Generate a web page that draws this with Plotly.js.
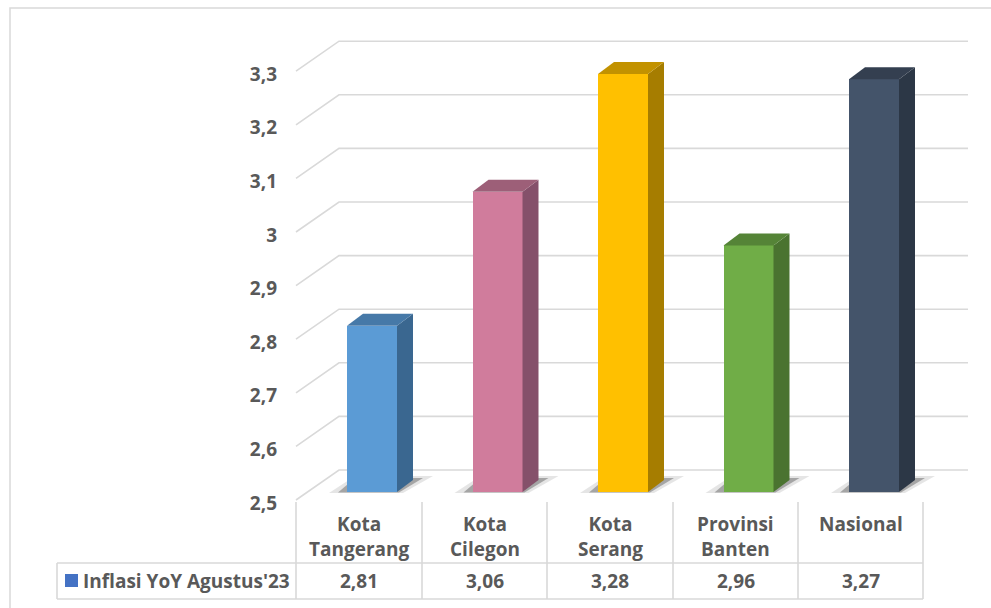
<!DOCTYPE html>
<html><head><meta charset="utf-8">
<script src="https://cdn.plot.ly/plotly-3.0.1.min.js"></script>
<style>html,body{margin:0;padding:0;background:#fff}#chart{width:991px;height:608px}</style>
</head><body><div id="chart"></div><script>
// ---- data ----
const categories = ['Kota Tangerang', 'Kota Cilegon', 'Kota Serang', 'Provinsi Banten', 'Nasional'];
const values = [2.81, 3.06, 3.28, 2.96, 3.27];
const yTicks = [2.5, 2.6, 2.7, 2.8, 2.9, 3.0, 3.1, 3.2, 3.3];
const seriesName = "Inflasi YoY Agustus'23";

// ---- style ----
const frontColors = ['#5B9BD5', '#D07C9C', '#FFC000', '#70AD47', '#44546A'];
const sideColors  = ['#3A6790', '#85506A', '#A67D00', '#4A7330', '#2C3746'];
const topColors   = ['#4679A8', '#9D5F78', '#C29200', '#558437', '#343F50'];
const legendColor = '#4472C4';
const textColor = '#595959';
const gridColor = '#D9D9D9';
const FONT = '"Open Sans", Lato, sans-serif';
const FS = 19;

// geometry (pixels of the 991x608 canvas)
const W = 991, H = 608;
const X0PX = 372, STEP = 125.5;   // bar 0 front centre, category step
const BASE = yTicks[0];
const Y0PX = 492, PPU = 536;      // pixel of BASE on bar plane, pixels per unit
const xu = px => (px - X0PX) / STEP;
const yu = py => BASE + (Y0PX - py) / PPU;
const dxu = px => px / STEP;
const dyu = px => px / PPU;

const barW = dxu(50);
const depthX = dxu(16), depthY = dyu(12);
const frontOff = -dyu(8), backOff = dyu(22);
const wallLeft = xu(339), wallRight = xu(968), floorLeft = xu(296);

const xs = categories.map((c, i) => i);
const fmt = v => String(v).replace('.', ',');

const traces = [];
// front faces
traces.push({
  type: 'bar', x: xs, y: values.map(v => v - BASE), base: BASE, width: barW,
  marker: {color: frontColors, line: {width: 0}}, hoverinfo: 'skip', showlegend: false, name: seriesName
});
// side + top faces
values.forEach((v, i) => {
  const r = i + barW / 2, l = i - barW / 2;
  traces.push({
    type: 'scatter', mode: 'lines', fill: 'toself', fillcolor: sideColors[i], line: {width: 0},
    x: [r, r, r + depthX, r + depthX, r], y: [BASE, v, v + depthY, BASE + depthY, BASE],
    hoverinfo: 'skip', showlegend: false
  });
  traces.push({
    type: 'scatter', mode: 'lines', fill: 'toself', fillcolor: topColors[i], line: {width: 0},
    x: [l, r, r + depthX, l + depthX, l], y: [v, v, v + depthY, v + depthY, v],
    hoverinfo: 'skip', showlegend: false
  });
});

const shapes = [];
// outer chart border
shapes.push({type: 'rect', xref: 'paper', yref: 'paper', x0: 10 / W, x1: 1.02, y0: -0.02, y1: 1 - 8 / H,
  line: {color: gridColor, width: 1.5}, layer: 'below'});
// gridlines (floor diagonal + back wall)
yTicks.forEach(t => {
  shapes.push({type: 'path', xref: 'x', yref: 'y', layer: 'below', line: {color: gridColor, width: 1.6},
    path: `M ${floorLeft},${t + frontOff} L ${wallLeft},${t + backOff} L ${wallRight},${t + backOff}`});
});
// floor shadows
values.forEach((v, i) => {
  const l = i - barW / 2, r = i + barW / 2;
  const p = (pts) => 'M ' + pts.map(q => q.join(',')).join(' L ') + ' Z';
  shapes.push({type: 'path', xref: 'x', yref: 'y', layer: 'below', line: {width: 0}, fillcolor: 'rgba(0,0,0,0.10)',
    path: p([[l - dxu(18), BASE - dyu(1)], [r + dxu(6), BASE - dyu(1)], [r + dxu(36), BASE + dyu(16)], [l + dxu(8), BASE + dyu(16)]])});
  shapes.push({type: 'path', xref: 'x', yref: 'y', layer: 'below', line: {width: 0}, fillcolor: 'rgba(0,0,0,0.28)',
    path: p([[l - dxu(9), BASE - dyu(0.5)], [r + dxu(2), BASE - dyu(0.5)], [r + dxu(26), BASE + dyu(14)], [l + dxu(8), BASE + dyu(14)]])});
});
// data table lines
const colEdgesPx = [296, 422, 547, 673, 798, 923];
colEdgesPx.forEach(px => {
  shapes.push({type: 'line', xref: 'x', yref: 'y', x0: xu(px), x1: xu(px), y0: yu(502), y1: yu(599),
    line: {color: gridColor, width: 1.6}});
});
[563, 599].forEach(py => {
  shapes.push({type: 'line', xref: 'x', yref: 'y', x0: xu(57), x1: xu(923), y0: yu(py), y1: yu(py),
    line: {color: gridColor, width: 1.6}});
});
shapes.push({type: 'line', xref: 'x', yref: 'y', x0: xu(57), x1: xu(57), y0: yu(563), y1: yu(599),
  line: {color: gridColor, width: 1.6}});
// legend key
shapes.push({type: 'rect', xref: 'x', yref: 'y', x0: xu(65), x1: xu(78), y0: yu(587), y1: yu(574),
  fillcolor: legendColor, line: {width: 0}});

const tf = {family: FONT, size: FS, color: textColor, weight: 700};
const annotations = [];
const colShift = xu(359); // column centre offset vs bar front centre
categories.forEach((c, i) => {
  annotations.push({xref: 'x', yref: 'y', x: i + colShift, y: yu(509), yanchor: 'top', xanchor: 'center',
    text: c.replace(' ', '<br>'), showarrow: false, font: tf, align: 'center'});
  annotations.push({xref: 'x', yref: 'y', x: i + colShift, y: yu(581), yanchor: 'middle', xanchor: 'center',
    text: fmt(values[i]), showarrow: false, font: tf});
});
annotations.push({xref: 'x', yref: 'y', x: xu(81), y: yu(581), yanchor: 'middle', xanchor: 'left',
  text: seriesName, showarrow: false, font: tf});

const layout = {
  width: W, height: H, margin: {l: 0, r: 0, t: 0, b: 0},
  paper_bgcolor: '#fff', plot_bgcolor: 'rgba(0,0,0,0)',
  xaxis: {range: [xu(0), xu(W)], visible: false, fixedrange: true},
  yaxis: {range: [yu(H), yu(0)], anchor: 'free', position: 277 / W, showgrid: false, zeroline: false,
    showline: false, ticks: '', tickvals: yTicks.map(t => t + frontOff - dyu(3)), ticktext: yTicks.map(fmt),
    tickfont: {family: FONT, size: FS, color: textColor, weight: 700}, fixedrange: true},
  shapes: shapes, annotations: annotations, showlegend: false, bargap: 0
};
Plotly.newPlot('chart', traces, layout, {displayModeBar: false, staticPlot: true});
</script></body></html>
